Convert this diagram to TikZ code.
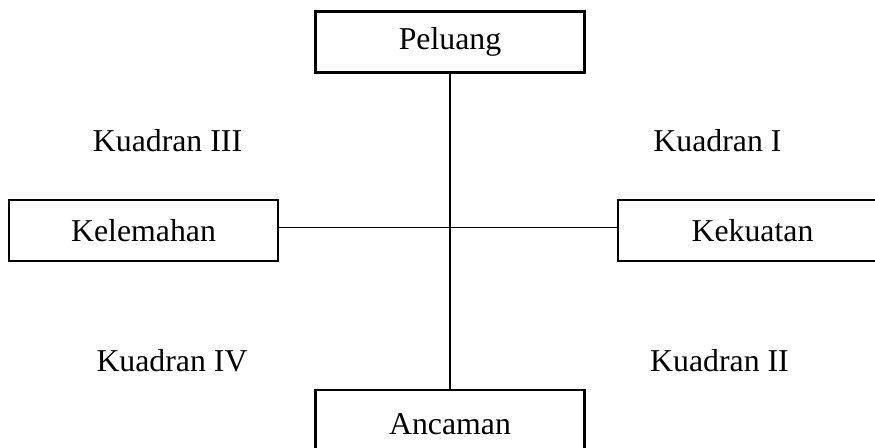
\documentclass[tikz,border=0pt]{standalone}
\usepackage{fontspec}
\setmainfont{Liberation Serif}
\begin{document}
\begin{tikzpicture}[x=0.5pt,y=-0.5pt,
  boxnode/.style={draw=black,line width=1.1pt,rectangle,inner sep=0pt,
    minimum width=134.5pt,minimum height=30.5pt,
    font=\fontsize{15.9}{19}\selectfont},
  quadlabel/.style={inner sep=0pt,anchor=base,font=\fontsize{15.9}{19}\selectfont},
  link/.style={draw=black,line width=0.8pt}]
\useasboundingbox (0,0) rectangle (875,447);
\clip (0,0) rectangle (875,447);
\node[boxnode] (pel) at (450,42) {\raisebox{-1pt}{Peluang}};
\node[boxnode] (kel) at (143.5,230.5) {\raisebox{-1pt}{Kelemahan}};
\node[boxnode] (kek) at (752.5,230.5) {\raisebox{-1pt}{Kekuatan}};
\node[boxnode,minimum height=40pt] (anc) at (450,430) {\raisebox{6pt}{Ancaman}};
\draw[link] (pel.south) -- (anc.north);
\draw[link] ([yshift=1.5pt]kel.east) -- ([yshift=1.5pt]kek.west);
\node[quadlabel] (q3) at (167.5,151) {Kuadran III};
\node[quadlabel] (q1) at (717.5,151) {Kuadran I};
\node[quadlabel] (q4) at (172,371) {Kuadran IV};
\node[quadlabel] (q2) at (719.5,371) {Kuadran II};
\end{tikzpicture}
\end{document}
